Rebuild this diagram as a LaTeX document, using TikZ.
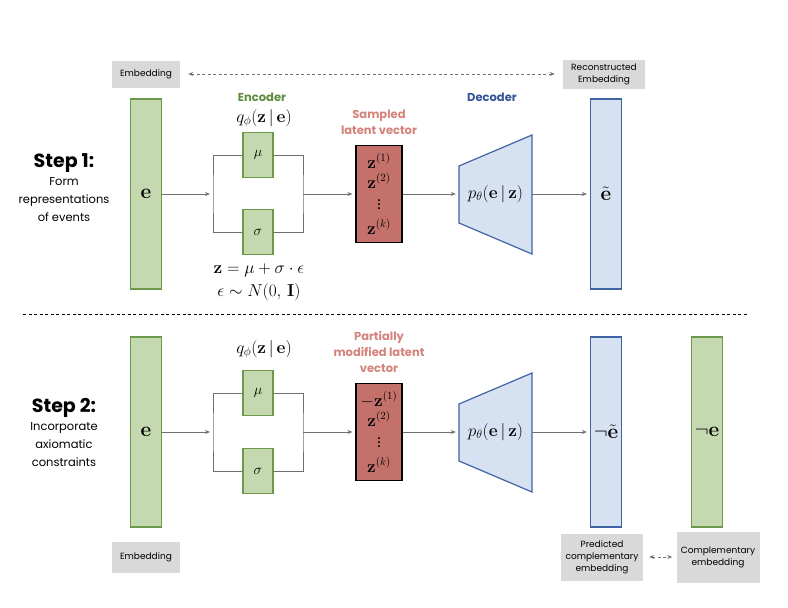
\documentclass[tikz,border=0pt]{standalone}
\usepackage[no-math]{fontspec}
\setmainfont{Poppins}
\usetikzlibrary{arrows.meta}
\definecolor{encgreen}{HTML}{C5D9B0}
\definecolor{encedge}{HTML}{6B9A4B}
\definecolor{decblue}{HTML}{D6E2F2}
\definecolor{decedge}{HTML}{3F64A4}
\definecolor{latred}{HTML}{C4716B}
\definecolor{lblgreen}{HTML}{5E8C3E}
\definecolor{lblred}{HTML}{D4827A}
\definecolor{lblblue}{HTML}{32539A}
\definecolor{tagbox}{HTML}{D9D9D9}
\definecolor{wire}{HTML}{707070}
\tikzset{
  vecbar/.style={draw=encedge, fill=encgreen, line width=1.2pt, minimum width=31pt,
    minimum height=190pt, inner sep=0pt, font=\fontsize{21}{22}\selectfont},
  recbar/.style={vecbar, draw=decedge, fill=decblue},
  parbox/.style={draw=encedge, fill=encgreen, line width=1.2pt, minimum width=30pt,
    minimum height=45pt, inner sep=0pt, font=\fontsize{15}{16}\selectfont},
  latbox/.style={draw=black, fill=latred, line width=1.2pt, minimum width=46pt,
    minimum height=97pt, inner sep=0pt, align=center, font=\fontsize{16}{20}\selectfont},
  tag/.style={fill=tagbox, inner sep=2pt, align=center, font=\fontsize{9}{12}\selectfont},
  arr/.style={draw=wire, line width=0.9pt, -{Stealth[length=5pt,width=4pt]}, shorten >=3pt},
  wireline/.style={draw=wire, line width=1pt},
  dashlink/.style={draw=wire, line width=0.9pt, dash pattern=on 3pt off 2.5pt,
    {Stealth[length=5pt,width=4pt]}-{Stealth[length=5pt,width=4pt]}},
  steplbl/.style={align=center, font=\fontsize{11.5}{18}\selectfont},
  mathlbl/.style={font=\fontsize{17.5}{23}\selectfont, align=center},
  declbl/.style={font=\fontsize{17}{18}\selectfont, minimum width=73pt, inner sep=0pt},
  head/.style={font=\fontsize{11.5}{16}\selectfont\bfseries, align=center},
}
\begin{document}
\begin{tikzpicture}[x=1pt, y=-1pt]
\useasboundingbox (0,0) rectangle (788,608);
% ---- step 1: representations
\node[steplbl] (step1) at (64,188) {{\fontsize{19}{20}\selectfont\bfseries Step 1:}\\Form\\representations\\of events};
\node[tag, minimum width=68pt, minimum height=27pt] (emb1) at (146,74) {Embedding};
\node[tag, minimum width=82pt, minimum height=29pt] (recemb) at (604,74) {Reconstructed\\Embedding};
\draw[dashlink, shorten <=8pt, shorten >=8pt] (emb1) -- (recemb);
\node[vecbar] (e1) at (146,194) {$\mathbf{e}$};
\node[head, text=lblgreen] (enc1) at (262,97) {Encoder};
\node[mathlbl] (q1) at (264,118) {$q_\phi(\mathbf{z}\,|\,\mathbf{e})$};
\node[parbox] (mu1) at (258,155) {$\mu$};
\node[parbox] (sig1) at (258,232) {$\sigma$};
\node[mathlbl] (rep1) at (259,282) {$\mathbf{z} = \mu + \sigma \cdot \epsilon$\\$\epsilon \sim N(0,\,\mathbf{I})$};
\coordinate (in1) at (213,194);
\coordinate (out1) at (303,194);
\draw[arr] (e1.east) -- (in1);
\draw[wireline] (mu1.west) -| (in1) |- (sig1.west);
\draw[wireline] (mu1.east) -| (out1) |- (sig1.east);
\node[head, text=lblred] (samp1) at (379,122) {Sampled\\latent vector};
\node[latbox] (lat1) at (379,194) {$\mathbf{z}^{(1)}$\\$\mathbf{z}^{(2)}$\\[1pt]$\vdots$\\[5pt]$\mathbf{z}^{(k)}$};
\draw[arr] (out1) -- (lat1.west);
\node[head, text=lblblue] (dec1lbl) at (492,97) {Decoder};
\fill[decblue] (459,166) -- (532,135) -- (532,254) -- (459,223) -- cycle;
\draw[decedge, line width=1.2pt] (459,166) -- (532,135) -- (532,254) -- (459,223) -- cycle;
\node[declbl] (dec1) at (495.5,194) {$p_\theta(\mathbf{e}\,|\,\mathbf{z})$};
\draw[arr] (lat1.east) -- (dec1.west);
\node[recbar] (rec1) at (606,194) {$\tilde{\mathbf{e}}$};
\draw[arr] (dec1.east) -- (rec1.west);
% divider
\draw[black, line width=0.8pt, dash pattern=on 3pt off 2.5pt] (23,314) -- (748,314);
% ---- step 2: constraints
\node[steplbl] (step2) at (64,432) {{\fontsize{19}{20}\selectfont\bfseries Step 2:}\\Incorporate\\axiomatic\\constraints};
\node[vecbar] (e2) at (146,432) {$\mathbf{e}$};
\node[tag, minimum width=68pt, minimum height=31pt] (emb2) at (146,557) {Embedding};
\node[mathlbl] (q2) at (264,349) {$q_\phi(\mathbf{z}\,|\,\mathbf{e})$};
\node[parbox] (mu2) at (258,393) {$\mu$};
\node[parbox] (sig2) at (258,471) {$\sigma$};
\coordinate (in2) at (213,432);
\coordinate (out2) at (303,432);
\draw[arr] (e2.east) -- (in2);
\draw[wireline] (mu2.west) -| (in2) |- (sig2.west);
\draw[wireline] (mu2.east) -| (out2) |- (sig2.east);
\node[head, text=lblred] (samp2) at (379,352) {Partially\\modified latent\\vector};
\node[latbox] (lat2) at (379,432) {$-\mathbf{z}^{(1)}$\\$\mathbf{z}^{(2)}$\\[1pt]$\vdots$\\[5pt]$\mathbf{z}^{(k)}$};
\draw[arr] (out2) -- (lat2.west);
\fill[decblue] (459,404) -- (532,373) -- (532,492) -- (459,461) -- cycle;
\draw[decedge, line width=1.2pt] (459,404) -- (532,373) -- (532,492) -- (459,461) -- cycle;
\node[declbl] (dec2) at (495.5,432) {$p_\theta(\mathbf{e}\,|\,\mathbf{z})$};
\draw[arr] (lat2.east) -- (dec2.west);
\node[recbar] (rec2) at (606,432) {$\neg\tilde{\mathbf{e}}$};
\draw[arr] (dec2.east) -- (rec2.west);
\node[vecbar] (comp2) at (707,432) {$\neg\mathbf{e}$};
\node[tag, minimum width=82pt, minimum height=47pt] (predemb) at (602,557) {Predicted\\complementary\\embedding};
\node[tag, minimum width=83pt, minimum height=51pt] (compemb) at (718,557) {Complementary\\embedding};
\draw[dashlink, shorten <=6pt, shorten >=4pt] (predemb) -- (compemb);
\end{tikzpicture}
\end{document}
